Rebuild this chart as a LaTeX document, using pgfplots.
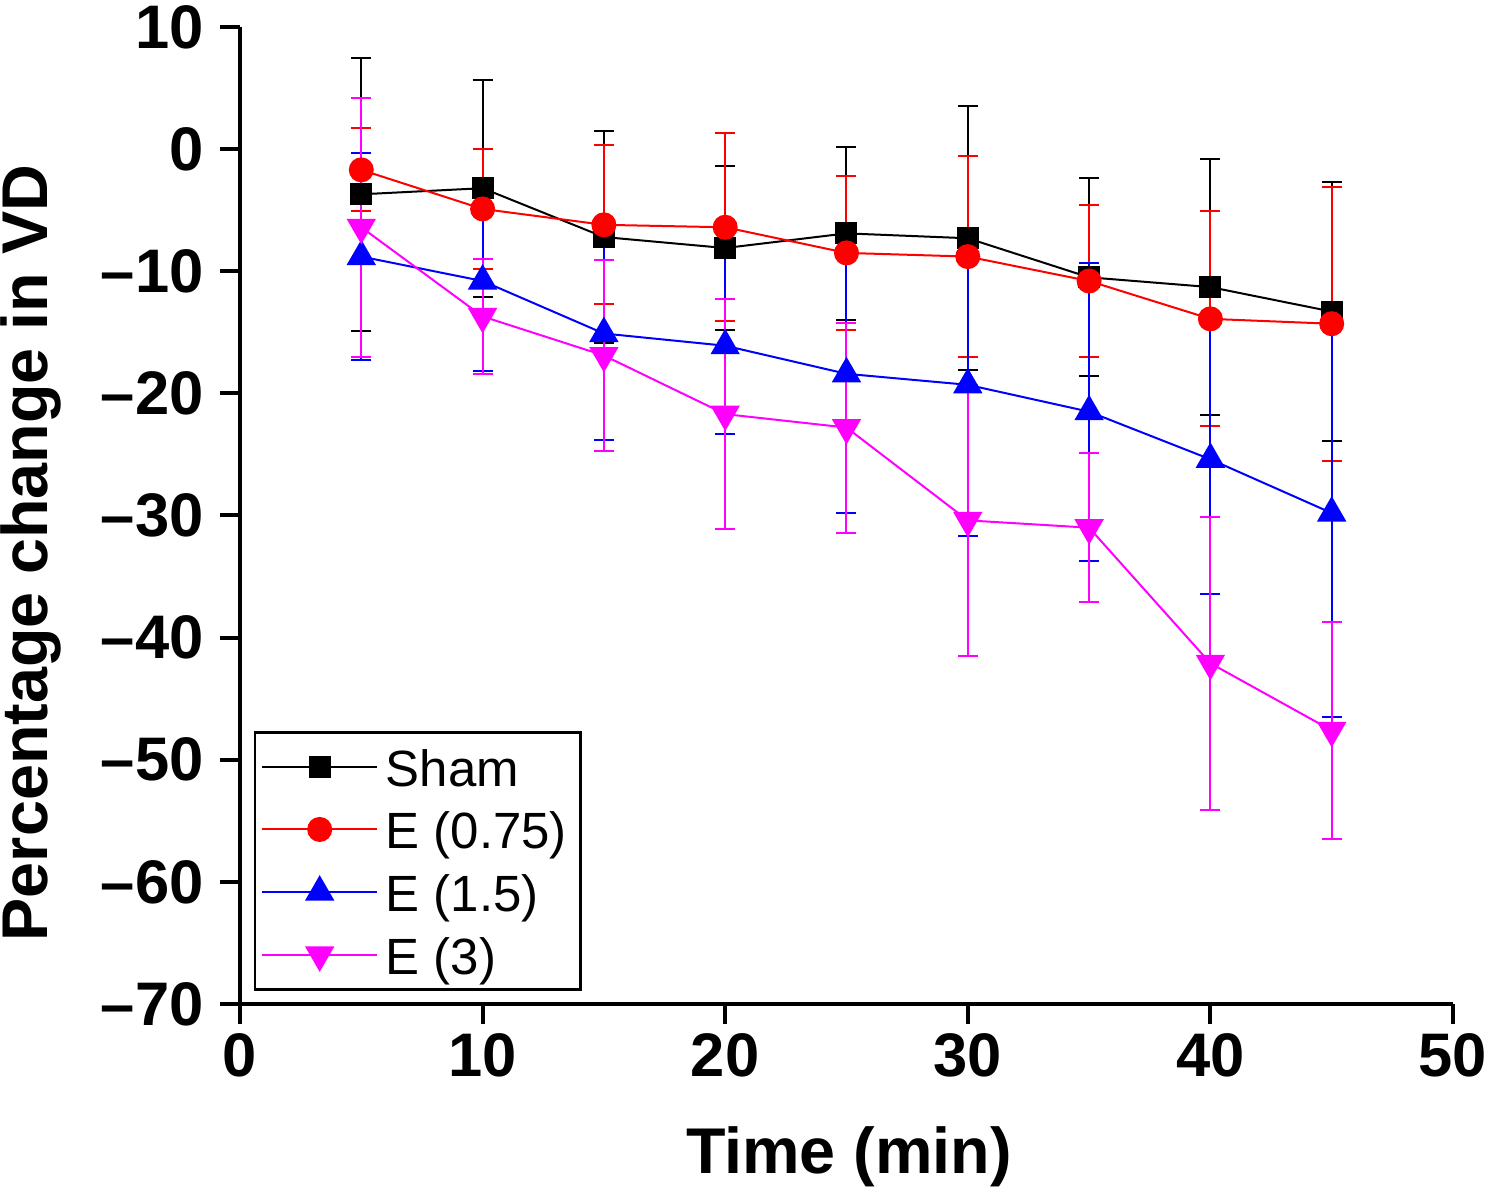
\documentclass[border=0pt]{standalone}
\usepackage{fontspec}
\setmainfont{Liberation Sans}
\usepackage{pgfplots}
\pgfplotsset{compat=1.18}
\usepackage{pgfplotstable}

\definecolor{cBlack}{RGB}{0,0,0}
\definecolor{cRed}{RGB}{255,0,0}
\definecolor{cBlue}{RGB}{0,0,255}
\definecolor{cMag}{RGB}{255,0,255}

\pgfplotstableread{
x y e
5 -3.7 11.2
10 -3.2 8.9
15 -7.2 8.7
20 -8.1 6.7
25 -6.9 7.1
30 -7.3 10.8
35 -10.5 8.1
40 -11.3 10.5
45 -13.3 10.6
}\sham
\pgfplotstableread{
x y e
5 -1.7 3.4
10 -4.9 4.9
15 -6.2 6.5
20 -6.4 7.7
25 -8.5 6.3
30 -8.8 8.2
35 -10.8 6.2
40 -13.9 8.8
45 -14.3 11.2
}\ea
\pgfplotstableread{
x y e
5 -8.8 8.5
10 -10.8 7.4
15 -15.1 8.7
20 -16.1 7.2
25 -18.4 11.4
30 -19.3 12.4
35 -21.5 12.2
40 -25.4 11.0
45 -29.8 16.7
}\eb
\pgfplotstableread{
x y e
5 -6.4 10.6
10 -13.7 4.7
15 -16.9 7.8
20 -21.7 9.4
25 -22.8 8.6
30 -30.4 11.1
35 -31.0 6.1
40 -42.1 12.0
45 -47.6 8.9
}\ec

\pgfplotsset{myerr/.style={error bars/.cd, y dir=both, y explicit,
    error bar style={line width=0.2mm},
    error mark options={line width=0.2mm, mark size=1mm, rotate=90}}}

\begin{document}
\begin{tikzpicture}[x=1mm,y=1mm]
\path[use as bounding box] (-24,-18.7) rectangle (124.6,100.4);
\begin{axis}[
  at={(0,0)}, anchor=south west,
  scale only axis, width=121.3mm, height=97.7mm,
  xmin=0, xmax=50, ymin=-70, ymax=10,
  axis x line*=bottom, axis y line*=left,
  axis line style={-, line width=0.4mm},
  tick align=outside, major tick length=2mm,
  tick style={line width=0.4mm, black},
  xtick={0,10,20,30,40,50},
  xticklabels={0,10,20,30,40,50},
  ytick={-70,-60,-50,-40,-30,-20,-10,0,10},
  yticklabels={--70,--60,--50,--40,--30,--20,--10,0,10},
  tick label style={font=\fontsize{17.5}{20}\selectfont\bfseries},
  xticklabel style={yshift=0.3mm},
  yticklabel style={xshift=-0.4mm},
  xlabel={Time (min)}, ylabel={Percentage change in VD},
  label style={font=\fontsize{18.4}{22}\selectfont\bfseries},
  xlabel style={at={(axis description cs:0.502,-0.173)}, anchor=base},
  ylabel style={at={(axis description cs:-0.1583,0.4616)}, anchor=base},
  clip=false,
  legend cell align=left,
  legend style={at={(axis description cs:0.0115,0.2794)}, anchor=north west,
    draw=black, line width=0.25mm, inner xsep=0.6mm, inner ysep=0.5mm,
    font=\fontsize{14.5}{17}\selectfont, row sep=0.37mm,
    nodes={inner xsep=0.75mm, inner ysep=0pt, text height=4.9mm, text depth=1.0mm}},
  legend image code/.code={\draw[mark repeat=2,mark phase=2,#1] plot coordinates {(0mm,0mm) (5.75mm,0mm) (11.5mm,0mm)};},
  every axis plot/.append style={line width=0.2mm},
]
\addplot[cBlack, mark=square*, mark size=1mm, mark options={fill=cBlack}, myerr] table[x=x, y=y, y error=e] {\sham};
\addlegendentry{Sham}
\addplot[cRed, mark=*, mark size=1.15mm, mark options={fill=cRed}, myerr] table[x=x, y=y, y error=e] {\ea};
\addlegendentry{E (0.75)}
\addplot[cBlue, mark=triangle*, mark size=1.5mm, mark options={fill=cBlue}, myerr] table[x=x, y=y, y error=e] {\eb};
\addlegendentry{E (1.5)}
\addplot[cMag, mark=triangle*, mark size=1.5mm, mark options={fill=cMag, rotate=180}, myerr] table[x=x, y=y, y error=e] {\ec};
\addlegendentry{E (3)}
\end{axis}
\end{tikzpicture}
\end{document}
